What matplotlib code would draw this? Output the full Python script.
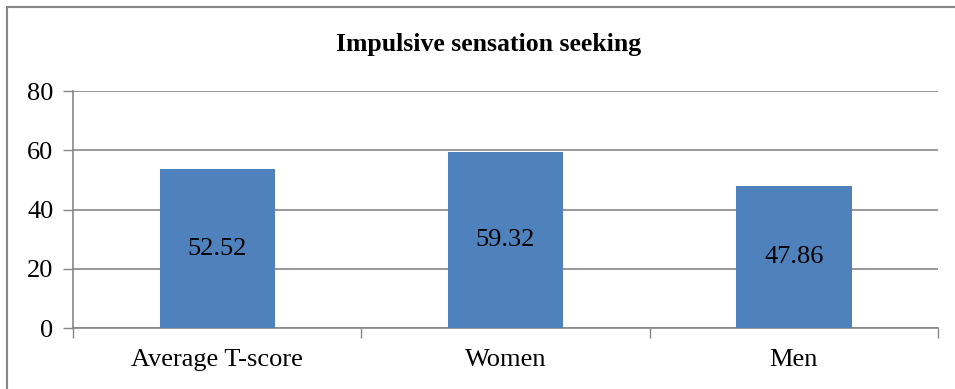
import matplotlib

matplotlib.use("Agg")
import matplotlib.pyplot as plt
from matplotlib.patches import Rectangle

categories = ["Average T-score", "Women", "Men"]
bar_values = [53.6, 59.32, 47.86]
bar_labels = ["52.52", "59.32", "47.86"]
y_ticks = [0, 20, 40, 60, 80]

plt.rcParams["font.family"] = ["Liberation Serif", "DejaVu Serif"]

bar_color = "#4F81BD"
axis_color = "#868686"
fs = 19

fig = plt.figure(figsize=(9.55, 3.89), dpi=100)
ax = fig.add_axes([73 / 955, 1 - 328.3 / 389, (938 - 73) / 955, (328.3 - 91) / 389])

xs = list(range(len(categories)))
bars = ax.bar(xs, bar_values, width=0.4, color=bar_color, zorder=3)
for b, lab in zip(bars, bar_labels):
    ax.text(b.get_x() + b.get_width() / 2, b.get_height() / 2, lab,
            ha="center", va="center", fontsize=fs, color="black", zorder=4)

ax.set_xlim(-0.5, len(categories) - 0.5)
ax.set_ylim(0, 80)
ax.set_yticks(y_ticks)
ax.tick_params(axis="y", labelsize=fs, length=7, width=1, color=axis_color, pad=7)
ax.grid(axis="y", color=axis_color, linewidth=1.2, zorder=0)

# category labels between boundary ticks
ax.set_xticks([x - 0.5 for x in xs] + [xs[-1] + 0.5])
ax.set_xticklabels([])
ax.set_xticks(xs, minor=True)
ax.set_xticklabels(categories, minor=True, fontsize=fs)
ax.tick_params(axis="x", which="major", length=7, width=1, color=axis_color)
ax.tick_params(axis="x", which="minor", length=0, pad=15)

for side in ["top", "right"]:
    ax.spines[side].set_visible(False)
for side in ["left", "bottom"]:
    ax.spines[side].set_color(axis_color)
    ax.spines[side].set_linewidth(1.2)

fig.text(489 / 955, 1 - 45 / 389, "Impulsive sensation seeking",
         ha="center", va="center", fontsize=18.5, fontweight="bold")

# outer chart border (top and left visible)
fig.patches.append(Rectangle((7 / 955, -0.1), 1.2, 1.1 - 7 / 389,
                             transform=fig.transFigure, fill=False,
                             edgecolor=axis_color, linewidth=1.5))

fig.savefig("out.png", dpi=100, facecolor="white")
